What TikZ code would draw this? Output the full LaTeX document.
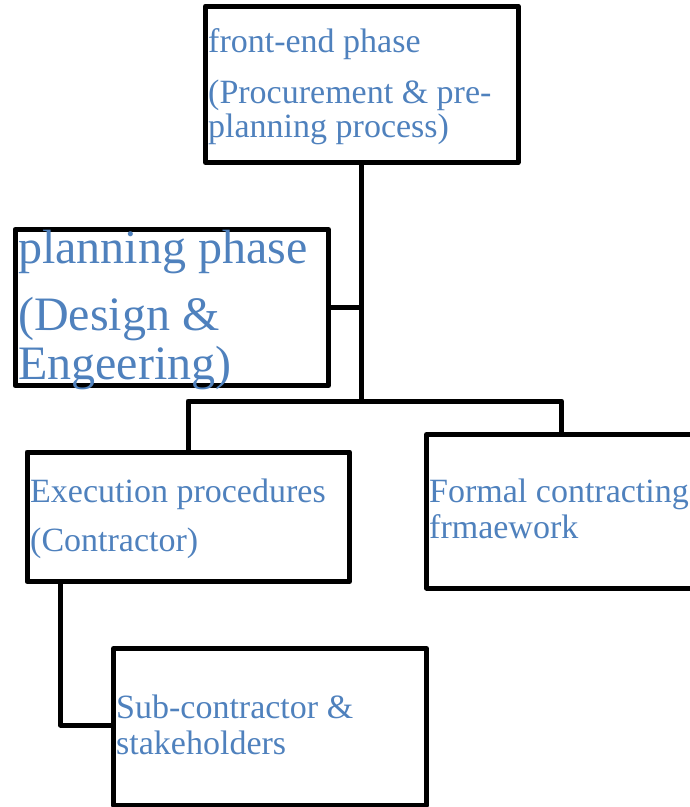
\documentclass[tikz,border=0pt]{standalone}
\usepackage{fontspec}
\setmainfont{Liberation Serif}
\definecolor{labelblue}{HTML}{4F81BD}
\begin{document}
\begin{tikzpicture}[x=1pt,y=-1pt,
  box/.style={draw=black,line width=5pt,line join=round,rectangle,inner sep=0pt,outer sep=0pt,anchor=north west},
  link/.style={draw=black,line width=5pt,line join=round},
  lbl/.style={text=labelblue,inner sep=0pt,anchor=base west,font=\fontsize{34}{34}\selectfont},
  biglbl/.style={lbl,font=\fontsize{48}{48}\selectfont}]
\useasboundingbox (0,0) rectangle (690,807);
% boxes
\node[box,minimum width=312.5pt,minimum height=156.5pt] (front) at (205.5,6) {};
\node[box,minimum width=313.5pt,minimum height=156pt] (plan) at (15,229.5) {};
\node[box,minimum width=322.5pt,minimum height=129.5pt] (exec) at (27,452) {};
\node[box,minimum width=300pt,minimum height=153.5pt] (formal) at (426.5,434.5) {};
\node[box,minimum width=313pt,minimum height=156.5pt] (sub) at (113.5,648.5) {};
% connectors
\coordinate (trunk) at (361,401);
\coordinate (lft) at (188,401);
\coordinate (rgt) at (561.5,401);
\coordinate (subbend) at (60.5,725);
\draw[link] (front.south -| trunk) -- (trunk);
\draw[link] (plan.east) -- (plan.east -| trunk);
\draw[link] (exec.north -| lft) -- (lft) -- (rgt) -- (formal.north -| rgt);
\draw[link] (exec.south -| subbend) -- (subbend) -- (sub.west |- subbend);
% labels
\node[lbl] (t1) at (208,52) {front-end phase};
\node[lbl] (t2) at (208,103) {(Procurement \& pre-};
\node[lbl] (t3) at (208,137) {planning process)};
\node[biglbl] (p1) at (18,263) {planning phase};
\node[biglbl] (p2) at (18,330) {(Design \&};
\node[biglbl] (p3) at (18,379) {Engeering)};
\node[lbl] (e1) at (30,502) {Execution procedures};
\node[lbl] (e2) at (30,551) {(Contractor)};
\node[lbl] (f1) at (429,502) {Formal contracting};
\node[lbl] (f2) at (429,538) {frmaework};
\node[lbl] (s1) at (116,718) {Sub-contractor \&};
\node[lbl] (s2) at (116,754) {stakeholders};
\end{tikzpicture}
\end{document}
